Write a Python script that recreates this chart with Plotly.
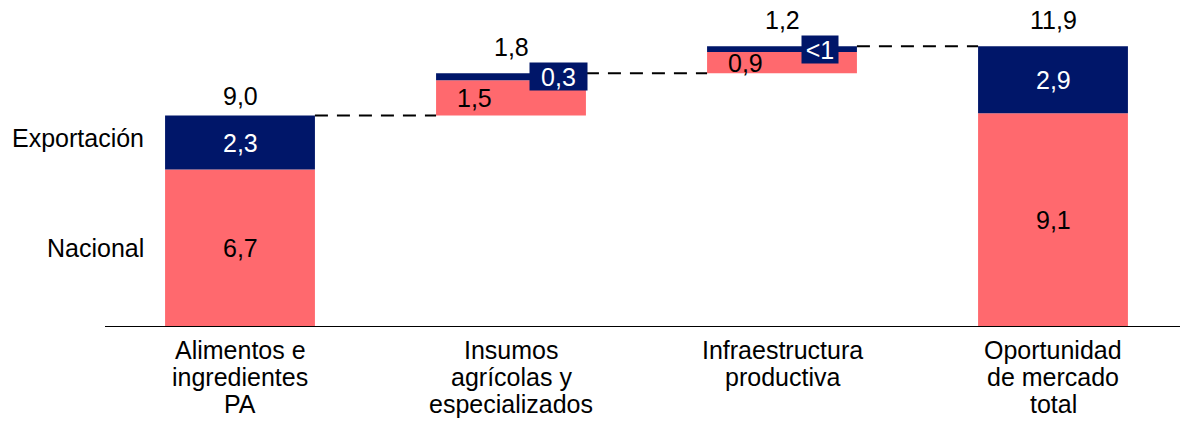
import plotly.graph_objects as go

categories = ["Alimentos e<br>ingredientes<br>PA", "Insumos<br>agrícolas y<br>especializados",
              "Infraestructura<br>productiva", "Oportunidad<br>de mercado<br>total"]
nacional = [6.7, 1.5, 0.9, 9.1]
exportacion = [2.3, 0.3, 0.25, 2.85]
nacional_txt = ["6,7", "1,5", "0,9", "9,1"]
export_txt = ["2,3", "0,3", "<1", "2,9"]
total_txt = ["9,0", "1,8", "1,2", "11,9"]
series_names = ["Nacional", "Exportación"]

NAVY = "#001669"
SALMON = "#FF696E"
FONT = "Liberation Sans, Arial, sans-serif"
FS = 25

# waterfall bases: first and last bars start from zero, middle ones float
bases = [0.0]
for i in range(1, len(categories) - 1):
    bases.append(bases[-1] + nacional[i - 1] + exportacion[i - 1])
bases.append(0.0)
tops = [b + n + e for b, n, e in zip(bases, nacional, exportacion)]
xs = list(range(len(categories)))
BW = 0.553

fig = go.Figure()
fig.add_bar(x=xs, y=nacional, base=bases, width=BW, marker=dict(color=SALMON, line=dict(width=0)),
            name=series_names[0], hoverinfo="skip")
fig.add_bar(x=xs, y=exportacion, base=[b + n for b, n in zip(bases, nacional)], width=BW,
            marker=dict(color=NAVY, line=dict(width=0)), name=series_names[1], hoverinfo="skip")

ann = []
shapes = []
# value labels
for i in xs:
    n_mid = bases[i] + nacional[i] / 2
    e_mid = bases[i] + nacional[i] + exportacion[i] / 2
    floating = 0 < i < len(categories) - 1
    if not floating:
        ann.append(dict(x=i, y=n_mid, text=nacional_txt[i], showarrow=False,
                        font=dict(family=FONT, size=FS, color="black")))
        ann.append(dict(x=i, y=e_mid, text=export_txt[i], showarrow=False,
                        font=dict(family=FONT, size=FS, color="white")))
    else:
        ann.append(dict(x=i, y=n_mid, text=nacional_txt[i], showarrow=False, xshift=-37,
                        font=dict(family=FONT, size=FS, color="black")))
        w = 57 if i == 1 else 36
        xs_shift = 47.5 if i == 1 else 38
        ann.append(dict(x=i, y=e_mid, text=export_txt[i], showarrow=False, xshift=xs_shift,
                        bgcolor=NAVY, width=w, height=27, borderpad=0,
                        font=dict(family=FONT, size=FS, color="white")))
    yshift = 20 if i == 0 else 26
    ann.append(dict(x=i, y=tops[i], text=total_txt[i], showarrow=False, yanchor="middle",
                    yshift=yshift, font=dict(family=FONT, size=FS, color="black")))

# category labels (one annotation per line for tight line spacing)
for i, cat in enumerate(categories):
    for j, line in enumerate(cat.split("<br>")):
        ann.append(dict(x=i, y=0, text=line, showarrow=False, yanchor="middle",
                        yshift=-(23 + 27 * j), font=dict(family=FONT, size=FS, color="black")))

# series labels at left, aligned with first bar segments
ann.append(dict(x=146 / 1180, xref="paper", xanchor="right", y=nacional[0] + exportacion[0] / 2,
                yshift=5, text=series_names[1], showarrow=False,
                font=dict(family=FONT, size=FS, color="black")))
ann.append(dict(x=146 / 1180, xref="paper", xanchor="right", y=nacional[0] / 2,
                text=series_names[0], showarrow=False,
                font=dict(family=FONT, size=FS, color="black")))

# connectors
for i in range(len(categories) - 1):
    shapes.append(dict(type="line", x0=i + BW / 2, x1=i + 1 - BW / 2, y0=tops[i], y1=tops[i],
                       line=dict(color="black", width=2, dash="13px,9px")))
# baseline
shapes.append(dict(type="line", xref="paper", x0=105 / 1180, x1=1, y0=0, y1=0,
                   line=dict(color="black", width=2)))

fig.update_layout(
    width=1180, height=421,
    margin=dict(l=0, r=0, t=0, b=94),
    paper_bgcolor="white", plot_bgcolor="white",
    barmode="overlay", showlegend=False,
    xaxis=dict(range=[-240 / 271, 940 / 271], visible=False, fixedrange=True),
    yaxis=dict(range=[0, 327 / 23.5], visible=False, fixedrange=True),
    annotations=ann, shapes=shapes,
    font=dict(family=FONT, size=FS),
)
fig.write_html("out.html", config={"displayModeBar": False})
